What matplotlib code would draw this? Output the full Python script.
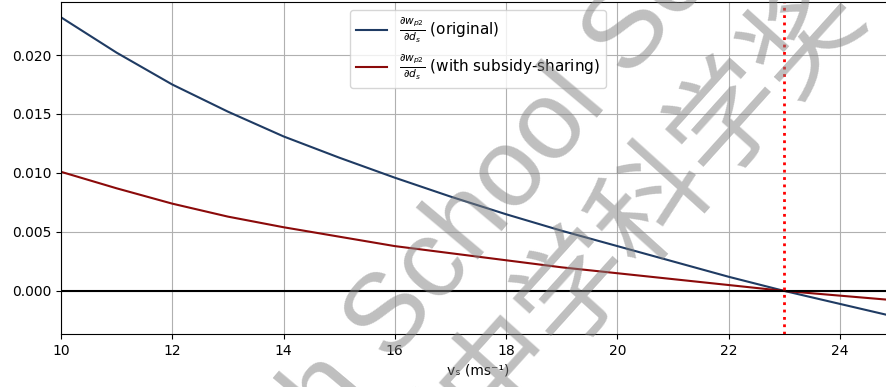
import matplotlib
matplotlib.use("Agg")
import matplotlib.pyplot as plt

# speed values (m/s) and the two derivative curves
vs = [10, 11, 12, 13, 14, 15, 16, 17, 18, 19, 20, 21, 22, 23, 24, 25]
dw_original = [0.0232, 0.0202, 0.0175, 0.0152, 0.0131, 0.0113, 0.0096, 0.0080,
               0.0065, 0.0051, 0.0038, 0.0025, 0.0012, 0.0, -0.0011, -0.0022]
dw_sharing = [0.0101, 0.0087, 0.0074, 0.0063, 0.0054, 0.0046, 0.0038, 0.0032,
              0.0026, 0.0020, 0.0015, 0.0010, 0.0005, 0.0, -0.0004, -0.0008]
v_cross = 23

label_orig = r'$\frac{\partial w_{p2}}{\partial d_s}$ (original)'
label_share = r'$\frac{\partial w_{p2}}{\partial d_s}$ (with subsidy-sharing)'


def main():
	fig = plt.figure(figsize=(8.86, 3.87), dpi=100)
	# axes runs past the right edge, the reference is cropped there
	ax = fig.add_axes([0.0688, 0.137, 0.942, 0.858])

	ax.plot(vs, dw_original, color='#1f3b63', linewidth=1.5, label=label_orig)
	ax.plot(vs, dw_sharing, color='#8b0a0a', linewidth=1.5, label=label_share)
	ax.axhline(0, color='black', linewidth=1.5)
	ax.axvline(v_cross, color='red', linestyle=':', linewidth=2)

	ax.set_xlim(10, 25)
	ax.set_ylim(-0.00365, 0.0245)
	ax.set_xticks([10, 12, 14, 16, 18, 20, 22, 24])
	ax.set_yticks([0.0, 0.005, 0.010, 0.015, 0.020])
	ax.set_xlabel('vₛ (ms⁻¹)')
	ax.grid(True)
	ax.legend(loc='upper center', fontsize=11)

	# watermark
	fig.text(0.548, 0.469, 'S.-T. Yau High School Science Award', rotation=50,
		fontsize=80, color='gray', alpha=0.5, ha='center', va='center',
		family=['Liberation Sans', 'DejaVu Sans'], rotation_mode='anchor', zorder=10)
	fig.text(0.608, 0.148, '丘成桐中学科学奖', rotation=48,
		fontsize=82, color='gray', alpha=0.5, ha='center', va='center',
		family=['Noto Sans CJK SC', 'DejaVu Sans'], rotation_mode='anchor', zorder=10)

	fig.savefig('out.png', dpi=100)


if __name__ == "__main__":
	main()
